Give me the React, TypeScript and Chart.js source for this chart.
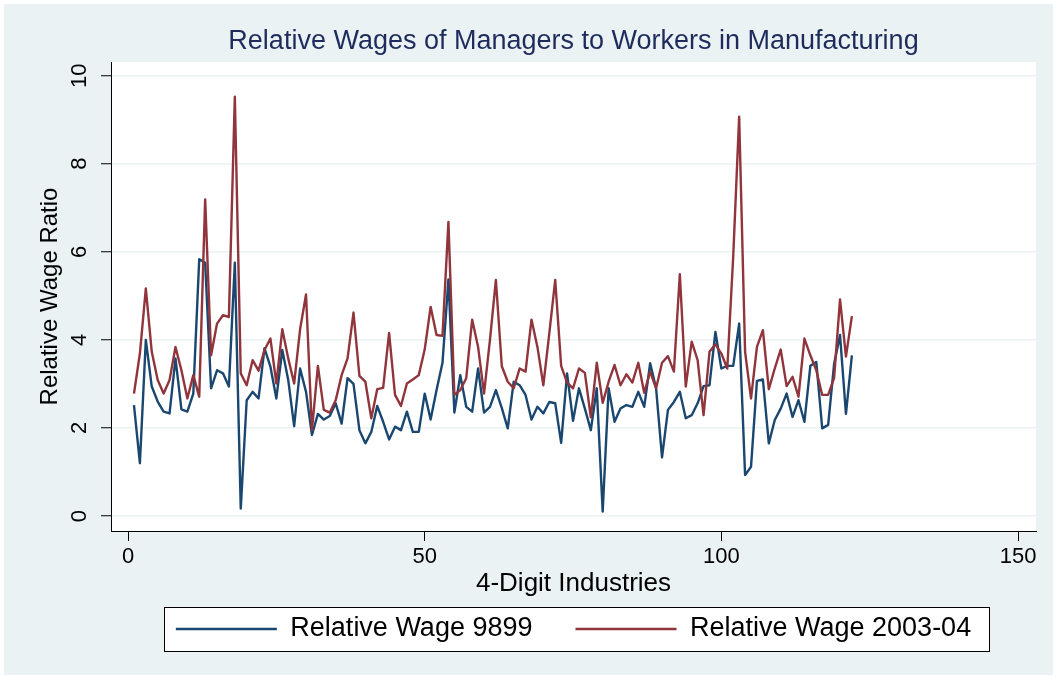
import React, { useEffect, useRef } from "react";
import { Chart, registerables } from "chart.js";

Chart.register(...registerables);

// ---- Data ----
const industries = [
  1, 2, 3, 4, 5, 6, 7, 8, 9, 10, 11, 12, 13, 14, 15, 16, 17, 18, 19, 20,
  21, 22, 23, 24, 25, 26, 27, 28, 29, 30, 31, 32, 33, 34, 35, 36, 37, 38, 39, 40,
  41, 42, 43, 44, 45, 46, 47, 48, 49, 50, 51, 52, 53, 54, 55, 56, 57, 58, 59, 60,
  61, 62, 63, 64, 65, 66, 67, 68, 69, 70, 71, 72, 73, 74, 75, 76, 77, 78, 79, 80,
  81, 82, 83, 84, 85, 86, 87, 88, 89, 90, 91, 92, 93, 94, 95, 96, 97, 98, 99, 100,
  101, 102, 103, 104, 105, 106, 107, 108, 109, 110, 111, 112, 113, 114, 115, 116, 117, 118, 119, 120,
  121, 122,
];

const wage9899 = [
  2.52, 1.2, 4.0, 2.94, 2.6, 2.37, 2.33, 3.58, 2.42, 2.37,
  2.78, 5.83, 5.75, 2.9, 3.31, 3.24, 2.94, 5.75, 0.17, 2.63,
  2.82, 2.67, 3.81, 3.39, 2.67, 3.77, 3.09, 2.04, 3.35, 2.82,
  1.84, 2.32, 2.19, 2.27, 2.56, 2.1, 3.13, 3.0, 1.95, 1.65,
  1.91, 2.5, 2.14, 1.74, 2.03, 1.95, 2.37, 1.91, 1.91, 2.78,
  2.19, 2.86, 3.48, 5.37, 2.35, 3.2, 2.48, 2.37, 3.35, 2.35,
  2.48, 2.86, 2.45, 1.99, 3.05, 2.97, 2.75, 2.19, 2.48, 2.33,
  2.59, 2.56, 1.66, 3.24, 2.16, 2.9, 2.44, 1.95, 2.9, 0.1,
  2.9, 2.14, 2.44, 2.52, 2.48, 2.82, 2.48, 3.47, 2.9, 1.33,
  2.41, 2.59, 2.82, 2.22, 2.29, 2.56, 2.95, 2.97, 4.18, 3.35,
  3.41, 3.41, 4.37, 0.93, 1.12, 3.07, 3.1, 1.65, 2.18, 2.44,
  2.78, 2.25, 2.63, 2.14, 3.41, 3.5, 1.99, 2.07, 3.45, 4.11,
  2.32, 3.65,
];

const wage0304 = [
  2.78, 3.69, 5.17, 3.73, 3.09, 2.78, 3.09, 3.84, 3.31, 2.67,
  3.2, 2.71, 7.19, 3.65, 4.37, 4.56, 4.52, 9.52, 3.24, 2.97,
  3.54, 3.3, 3.77, 4.03, 3.01, 4.24, 3.58, 3.01, 4.24, 5.03,
  1.95, 3.41, 2.41, 2.35, 2.63, 3.2, 3.58, 4.62, 3.18, 3.05,
  2.22, 2.88, 2.91, 4.16, 2.75, 2.5, 3.01, 3.1, 3.2, 3.78,
  4.75, 4.11, 4.09, 6.68, 2.75, 2.86, 3.13, 4.46, 3.84, 2.78,
  4.0, 5.36, 3.4, 3.05, 2.9, 3.35, 3.28, 4.46, 3.84, 2.97,
  4.15, 5.36, 3.41, 3.03, 2.9, 3.35, 3.25, 2.24, 3.48, 2.57,
  3.05, 3.43, 2.97, 3.22, 3.03, 3.48, 2.8, 3.28, 2.9, 3.48,
  3.63, 3.28, 5.49, 2.94, 3.96, 3.54, 2.29, 3.73, 3.9, 3.69,
  3.35, 5.9, 9.07, 3.73, 2.67, 3.84, 4.22, 2.88, 3.35, 3.78,
  2.95, 3.16, 2.71, 4.03, 3.65, 3.31, 2.75, 2.75, 3.13, 4.92,
  3.62, 4.54,
];

const xTicks = [0, 50, 100, 150];
const yTicks = [0, 2, 4, 6, 8, 10];

const seriesNames = ["Relative Wage 9899", "Relative Wage 2003-04"];
const chartTitle = "Relative Wages of Managers to Workers in Manufacturing";
const xTitle = "4-Digit Industries";
const yTitle = "Relative Wage Ratio";

// ---- Styles ----
const FONT = "'Liberation Sans', Arial, Helvetica, sans-serif";
const BG = "#eaf2f3";
const GRID = "#eaf2f3";
const BLUE = "#1a476f";
const RED = "#90353b";
const TITLE_COLOR = "#1e2b5c";
const TICK_SIZE = 22;

const decorPlugin = {
  id: "decor",
  beforeDraw(chart: any) {
    const { ctx, width, height, chartArea } = chart;
    ctx.save();
    ctx.fillStyle = "#ffffff";
    ctx.fillRect(0, 0, width, height);
    ctx.fillStyle = BG;
    ctx.fillRect(4, 4, width - 8, height - 8);
    ctx.fillStyle = "#ffffff";
    ctx.fillRect(
      chartArea.left,
      chartArea.top,
      chartArea.right - chartArea.left,
      chartArea.bottom - chartArea.top
    );
    const lg = chart.legend;
    if (lg && lg.legendHitBoxes && lg.legendHitBoxes.length) {
      const hb = lg.legendHitBoxes;
      const first = hb[0];
      const last = hb[hb.length - 1];
      const cy = first.top + first.height / 2;
      const x0 = Math.round(first.left - 12);
      const x1 = Math.round(last.left + last.width + 18);
      const y0 = Math.round(cy - 22);
      const y1 = Math.round(cy + 22);
      ctx.fillStyle = "#ffffff";
      ctx.fillRect(x0, y0, x1 - x0, y1 - y0);
      ctx.strokeStyle = "#000000";
      ctx.lineWidth = 1;
      ctx.strokeRect(x0 + 0.5, y0 + 0.5, x1 - x0, y1 - y0);
    }
    ctx.restore();
  },
  afterDraw(chart: any) {
    const { ctx } = chart;
    const ys = chart.scales.y;
    ctx.save();
    ctx.font = `${TICK_SIZE}px ${FONT}`;
    ctx.fillStyle = "#000000";
    ctx.textAlign = "center";
    ctx.textBaseline = "middle";
    ys.ticks.forEach((t: any) => {
      const py = ys.getPixelForValue(t.value);
      ctx.save();
      ctx.translate(80, py);
      ctx.rotate(-Math.PI / 2);
      ctx.fillText(String(t.value), 0, 0);
      ctx.restore();
    });
    ctx.restore();
  },
};

export default function App() {
  const ref = useRef<HTMLCanvasElement | null>(null);

  useEffect(() => {
    document.body.style.margin = "0";
    document.body.style.background = "#ffffff";
    const canvas = ref.current;
    if (!canvas) return;

    const toPoints = (vals: number[]) =>
      industries.map((x, i) => ({ x, y: vals[i] }));

    const chart = new Chart(canvas, {
      type: "line",
      data: {
        datasets: [
          {
            label: seriesNames[0],
            data: toPoints(wage9899),
            borderColor: BLUE,
            backgroundColor: BLUE,
            borderWidth: 2.4,
            pointRadius: 0,
            tension: 0,
            fill: false,
            borderJoinStyle: "round",
            order: 1,
          },
          {
            label: seriesNames[1],
            data: toPoints(wage0304),
            borderColor: RED,
            backgroundColor: RED,
            borderWidth: 2.4,
            pointRadius: 0,
            tension: 0,
            fill: false,
            borderJoinStyle: "round",
            order: 0,
          },
        ],
      },
      options: {
        animation: false,
        responsive: false,
        devicePixelRatio: 1,
        layout: { padding: { left: 0, right: 21, top: 0, bottom: 26.5 } },
        plugins: {
          tooltip: { enabled: false },
          title: {
            display: true,
            text: chartTitle,
            color: TITLE_COLOR,
            fullSize: false,
            font: { family: FONT, size: 27, weight: "normal" },
            padding: { top: 25.8, bottom: 3.8 },
          },
          legend: {
            display: true,
            position: "bottom",
            fullSize: false,
            labels: {
              color: "#000000",
              font: { family: FONT, size: 27 },
              boxWidth: 101,
              boxHeight: 2.5,
              padding: 43,
              sort: (a: any, b: any) => a.datasetIndex - b.datasetIndex,
              generateLabels: (c: any) =>
                (Chart.defaults.plugins.legend.labels as any)
                  .generateLabels(c)
                  .map((l: any) => ({ ...l, lineWidth: 0, fillStyle: l.strokeStyle })),
            },
          },
        },
        scales: {
          x: {
            type: "linear",
            min: -2.87,
            max: 153.03,
            afterBuildTicks: (s: any) => {
              s.ticks = xTicks.map((v) => ({ value: v }));
            },
            afterFit: (s: any) => {
              s.height = 41.5;
            },
            grid: {
              drawOnChartArea: false,
              drawTicks: true,
              tickLength: 10,
              tickColor: "#000000",
              tickWidth: 1,
            },
            border: { display: true, color: "#000000", width: 1 },
            ticks: {
              color: "#000000",
              font: { family: FONT, size: TICK_SIZE },
              padding: 3,
              maxRotation: 0,
              autoSkip: false,
            },
            title: {
              display: true,
              text: xTitle,
              color: "#000000",
              font: { family: FONT, size: 26 },
              padding: { top: 0, bottom: -27.1 },
            },
          },
          y: {
            type: "linear",
            min: -0.34,
            max: 10.31,
            afterBuildTicks: (s: any) => {
              s.ticks = yTicks.map((v) => ({ value: v }));
            },
            afterFit: (s: any) => {
              s.width = 111;
            },
            grid: {
              color: GRID,
              lineWidth: 1.5,
              drawTicks: true,
              tickLength: 10,
              tickColor: "#000000",
              tickWidth: 1,
            },
            border: { display: true, color: "#000000", width: 1 },
            ticks: { display: false },
            title: {
              display: true,
              text: yTitle,
              color: "#000000",
              font: { family: FONT, size: 24 },
              padding: { top: 35.6, bottom: 0 },
            },
          },
        },
      },
      plugins: [decorPlugin],
    } as any);

    return () => chart.destroy();
  }, []);

  return (
    <canvas
      ref={ref}
      width={1057}
      height={679}
      style={{ display: "block", width: 1057, height: 679 }}
    />
  );
}
